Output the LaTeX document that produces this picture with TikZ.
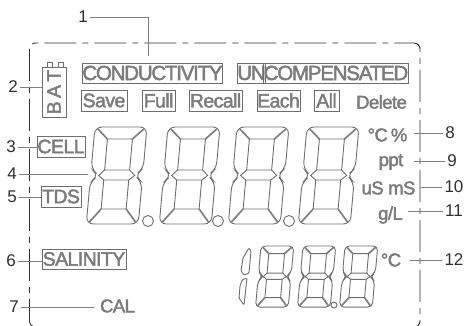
\documentclass[tikz,border=0pt]{standalone}
\usepackage{fontspec}
\setmainfont{Liberation Sans}
\newfontfamily\lcdcaps[LetterSpace=-6,FakeBold=2.2]{Liberation Sans}
\newfontfamily\lcdplain[LetterSpace=-3,FakeBold=2.2]{Liberation Sans}
\usetikzlibrary{positioning}
\definecolor{lcdgray}{HTML}{7C7C7C}
\definecolor{lcdline}{HTML}{6E6E6E}
\definecolor{numgray}{HTML}{303030}
\tikzset{lcdtext/.style={text=lcdgray,inner sep=1pt,font=\lcdplain\fontsize{18.5}{18}\selectfont}}
\tikzset{lcdbox/.style={draw=lcdline,line width=0.9pt,text=lcdgray,inner sep=0pt,font=\lcdcaps\fontsize{20.5}{20}\selectfont}}
\tikzset{lcdsmall/.style={font=\lcdplain\fontsize{19.5}{18}\selectfont}}
\tikzset{numlabel/.style={text=numgray,inner sep=2pt,font=\fontsize{17}{17}\selectfont}}
\tikzset{leader/.style={draw=gray,line width=0.6pt}}
\tikzset{segline/.style={draw=lcdline,line width=0.9pt}}
\tikzset{segspoke/.style={draw=gray,line width=1.7pt}}
\tikzset{framedash/.style={draw=numgray,line width=0.9pt,dash pattern=on 32pt off 6pt on 6pt off 6pt,rounded corners=6pt}}
% #1,#2 top left corner, #3 scale
\newcommand{\lcddigit}[3]{%
  \pgfmathsetmacro{\segrad}{#3*7}
  \begin{scope}[shift={(#1,#2)},scale=#3,xslant=0.09]
    \draw[segline,rounded corners=\segrad pt] (0,0) -- (52,0) -- (52,42) -- (44,48.5) -- (52,55) -- (52,97) -- (0,97) -- (0,55) -- (8,48.5) -- (0,42) -- cycle;
    \draw[segline] (13.5,12) rectangle (38.5,43);
    \draw[segline] (13.5,53) rectangle (38.5,82);
    \draw[segspoke] (3,2) -- (13.5,12);
    \draw[segspoke] (49,2) -- (38.5,12);
    \draw[segspoke] (3,95) -- (13.5,82);
    \draw[segspoke] (49,95) -- (38.5,82);
    \draw[segline] (13.5,43) -- (8,48.5) -- (13.5,53);
    \draw[segline] (38.5,43) -- (44,48.5) -- (38.5,53);
  \end{scope}}
\begin{document}
\begin{tikzpicture}[x=1pt,y=-1pt]
\useasboundingbox (0,0) rectangle (464,326);
\draw[framedash] (36,327) -- (29.5,327) -- (29.5,43) -- (420,43) -- (420,327) -- (414,327);
% top row
\node (cond) [lcdbox,minimum width=139,minimum height=20] at (152.5,73) {CONDUCTIVITY};
\node (un) [lcdbox,minimum width=27,minimum height=20] at (251.5,73) {UN};
\node (comp) [lcdbox,minimum width=140,minimum height=20] at (336,73) {COMPENSATED};
\node (save) [lcdbox,minimum width=46,minimum height=21,lcdsmall] at (104,100.5) {Save};
\node (full) [lcdbox,minimum width=33,minimum height=21,lcdsmall] at (158.5,100.5) {Full};
\node (recall) [lcdbox,minimum width=53,minimum height=21,lcdsmall] at (215.5,100.5) {Recall};
\node (each) [lcdbox,minimum width=43,minimum height=21,lcdsmall] at (278.5,100.5) {Each};
\node (allb) [lcdbox,minimum width=25,minimum height=21,lcdsmall] at (326.5,100.5) {All};
\node (delete) [lcdtext] at (381.5,102) {Delete};
% left column
\node (bat) [lcdbox,rotate=90,minimum width=50,minimum height=24,lcdsmall] at (54,92) {B\,A\,T};
\draw[segline] (47,67) -- (47,62) -- (52,62) -- (52,67);
\draw[segline] (58,67) -- (58,62) -- (63,62) -- (63,67);
\node (cell) [lcdbox,minimum width=48,minimum height=21,lcdsmall] at (61,146.5) {CELL};
\node (tds) [lcdbox,minimum width=40,minimum height=21,lcdsmall] at (61,196.5) {TDS};
\node (sal) [lcdbox,minimum width=84,minimum height=20,lcdsmall] at (84,259) {SALINITY};
\node (cal) [lcdtext] at (117.5,306) {CAL};
% units
\node (pct) [lcdtext] at (387.5,135) {°C\,\%};
\node (ppt) [lcdtext] at (391,162) {ppt};
\node (usms) [lcdtext] at (388.5,188) {uS mS};
\node (gl) [lcdtext] at (390.5,215) {g/L};
\node (degc) [lcdtext] at (391,260) {°C};
% big digits
\lcddigit{95}{127}{1}
\lcddigit{168}{127}{1}
\lcddigit{237}{127}{1}
\lcddigit{307}{127}{1}
\node (dota) [circle,segline,minimum size=11,inner sep=0pt] at (148,221) {};
\node (dotb) [circle,segline,minimum size=11,inner sep=0pt] at (218,221) {};
\node (dotc) [circle,segline,minimum size=11,inner sep=0pt] at (289,221) {};
% small digits
\lcddigit{261}{246}{0.63}
\lcddigit{303}{246}{0.63}
\lcddigit{345}{246}{0.63}
\node (dotd) [circle,segline,minimum size=6,inner sep=0pt] at (334,305) {};
\draw[segline,rounded corners=1pt] (249,248) -- (251,251) -- (249,273) -- (244,275) -- (241,271) -- (243,258) -- cycle;
\draw[segline,rounded corners=1pt] (247,278) -- (244,305) -- (239,298) -- (240,286) -- (242,280) -- cycle;
% numbers
\node (n1) [numlabel] at (83,17) {1};
\node (n2) [numlabel] at (13,87) {2};
\node (n3) [numlabel] at (11,147) {3};
\node (n4) [numlabel] at (12,174) {4};
\node (n5) [numlabel] at (12,197) {5};
\node (n6) [numlabel] at (11,261) {6};
\node (n7) [numlabel] at (14,307) {7};
\node (n8) [numlabel] at (450,133) {8};
\node (n9) [numlabel] at (452,161) {9};
\node (n10) [numlabel] at (454,187) {10};
\node (n11) [numlabel] at (454,211) {11};
\node (n12) [numlabel] at (454,260) {12};
\coordinate (condtop) at (148,56);
\coordinate (digitleft) at (88,174);
%
\draw[leader] (n1) -| (condtop);
\draw[leader] (n2) -- (n2 -| bat.north);
\draw[leader] (n3) -- (n3 -| cell.west);
\draw[leader] (n4) -- (digitleft);
\draw[leader] (n5) -- (n5 -| tds.west);
\draw[leader] (n6) -- (n6 -| sal.west);
\draw[leader] (n7) -- ([xshift=-5pt]n7 -| cal.west);
\draw[leader] (n8) -- ([xshift=5pt]n8 -| pct.east);
\draw[leader] (n9) -- ([xshift=9pt]n9 -| ppt.east);
\draw[leader] (n10) -- ([xshift=4pt]n10 -| usms.east);
\draw[leader] (n11) -- ([xshift=4pt]n11 -| gl.east);
\draw[leader] (n12) -- ([xshift=8pt]n12 -| degc.east);
\end{tikzpicture}
\end{document}
